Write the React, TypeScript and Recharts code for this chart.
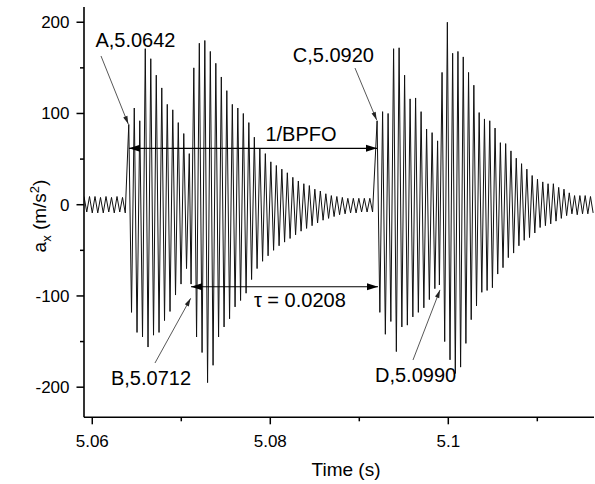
import React from 'react';
import { LineChart, Line, XAxis, YAxis, ReferenceLine, ReferenceDot } from 'recharts';

// ---- data ----
// each segment: start time (s), half-period between extrema (s), extrema values (m/s^2)
const segmentStarts = [5.05907, 5.0641, 5.0711, 5.092, 5.099];
const segmentHalfPeriods = [0.000309, 0.000309, 0.000309, 0.000309, 0.0002978];

const preBurstValues = [9, -8, 9, -9, 9, -9, 8, -9, 9, -8, 8, -9, 9, -8, 8, -9];
const burstAValues = [88, -118, 106, -140, 92, -145, 171, -156, 160, -143, 142, -140, 128, -127, 110, -117, 104, -99, 90, -87, 78, -70, 56];
const burstBValues = [
  -87, 150, -145, 177, -162, 180, -195, 168, -176, 155, -145, 140, -134, 125, -125, 110, -112, 106, -105, 100,
  -97, 90, -82, 74, -70, 62, -62, 56, -56, 47, -50, 43, -45, 39, -41, 35, -37, 30, -33, 26,
  -29, 23, -26, 21, -23, 17, -20, 15, -17, 12, -15, 10, -13, 9, -11, 8, -10, 7, -9, 7,
  -9, 7, -8, 7, -8, 7, -8,
];
const burstCValues = [92, -118, 102, -142, 100, -128, 171, -161, 172, -134, 142, -132, 116, -123, 117, -118, 102, -113, 83, -104, 79, -92, 70];
const burstDValues = [
  -88, 145, -150, 200, -170, 166, -185, 168, -178, 162, -152, 145, -126, 131, -111, 101, -96, 94, -94, 92,
  -91, 84, -76, 68, -69, 67, -58, 59, -53, 51, -45, 45, -39, 39, -36, 32, -31, 28, -25, 25,
  -23, 23, -21, 23, -18, 19, -15, 17, -12, 13, -10, 10, -11, 10, -10, 10, -10, 9, -9,
];
const segments = [preBurstValues, burstAValues, burstBValues, burstCValues, burstDValues];

const xDomain = [5.05907, 5.11637];
const yDomain = [-233, 216.7];
const xTicks = [5.06, 5.07, 5.08, 5.09, 5.1, 5.11];
const xMajorTicks = [5.06, 5.08, 5.1];
const yTicks = [-200, -150, -100, -50, 0, 50, 100, 150, 200];
const yMajorTicks = [-200, -100, 0, 100, 200];

const pointLabels = [
  { text: 'A,5.0642', t: 5.06485, a: 172.8 },
  { text: 'B,5.0712', t: 5.0666, a: -197.6 },
  { text: 'C,5.0920', t: 5.08709, a: 156.4 },
  { text: 'D,5.0990', t: 5.09632, a: -194.3 },
  { text: '1/BPFO', t: 5.08345, a: 69.8 },
  { text: 'τ = 0.0208', t: 5.08332, a: -112.1 },
];
const pointers = [
  { t1: 5.06098, a1: 163.0, t2: 5.064045, a2: 88.4 },
  { t1: 5.067045, a1: -173.5, t2: 5.071056, a2: -102.6 },
  { t1: 5.089517, a1: 149.8, t2: 5.091955, a2: 92.8 },
  { t1: 5.096034, a1: -170.2, t2: 5.099067, a2: -93.4 },
];
const spans = [
  { t1: 5.064124, t2: 5.091988, a: 61.8 },
  { t1: 5.07109, t2: 5.0921, a: -89.9 },
];

const rows = segments.flatMap((vals, s) =>
  vals.map((v, i) => ({ t: segmentStarts[s] + i * segmentHalfPeriods[s], a: v }))
);

const FONT = "'Liberation Sans', Arial, sans-serif";

const isIn = (arr: number[], v: number) => arr.some((m) => Math.abs(m - v) < 1e-9);

const XTick = (props: any) => {
  const { x, y, payload } = props;
  const major = isIn(xMajorTicks, payload.value);
  return (
    <g>
      <line x1={x} y1={y} x2={x} y2={y + (major ? 7 : 4)} stroke="#000" strokeWidth={1.5} />
      {major && (
        <text x={x} y={y + 29.5} textAnchor="middle" fontSize={17} fontFamily={FONT} fill="#000">
          {String(payload.value)}
        </text>
      )}
    </g>
  );
};

const YTick = (props: any) => {
  const { x, y, payload } = props;
  const major = isIn(yMajorTicks, payload.value);
  return (
    <g>
      <line x1={x} y1={y} x2={x - (major ? 7.5 : 4)} y2={y} stroke="#000" strokeWidth={1.5} />
      {major && (
        <text x={x - 14.5} y={y} dy="0.35em" textAnchor="end" fontSize={17} fontFamily={FONT} fill="#000">
          {String(payload.value)}
        </text>
      )}
    </g>
  );
};

const head = (tx: number, ty: number, fx: number, fy: number, len: number, wid: number, color: string) => {
  const dx = tx - fx;
  const dy = ty - fy;
  const L = Math.hypot(dx, dy) || 1;
  const ux = dx / L;
  const uy = dy / L;
  const bx = tx - ux * len;
  const by = ty - uy * len;
  const px = (-uy * wid) / 2;
  const py = (ux * wid) / 2;
  return <polygon points={`${tx},${ty} ${bx + px},${by + py} ${bx - px},${by - py}`} fill={color} />;
};

const pointerShape = (p: any) => {
  const { x1, y1, x2, y2 } = p;
  return (
    <g>
      <line x1={x1} y1={y1} x2={x2} y2={y2} stroke="#444" strokeWidth={0.9} />
      {head(x2, y2, x1, y1, 8, 4.5, '#222')}
    </g>
  );
};

const spanShape = (p: any) => {
  const { x1, y1, x2, y2 } = p;
  return (
    <g>
      <line x1={x1} y1={y1} x2={x2} y2={y2} stroke="#000" strokeWidth={1.2} />
      {head(x2, y2, x1, y1, 11, 7, '#000')}
      {head(x1, y1, x2, y2, 11, 7, '#000')}
    </g>
  );
};

export default function App() {
  return (
    <div style={{ position: 'absolute', left: 0, top: 0, width: 595, height: 484, background: '#fff' }}>
      <LineChart width={595} height={484} data={rows} margin={{ top: 7, right: 1, bottom: 0, left: 0 }}>
        <XAxis
          dataKey="t"
          type="number"
          domain={xDomain}
          allowDataOverflow
          ticks={xTicks}
          tickSize={0}
          tickMargin={0}
          tickLine={false}
          tick={<XTick />}
          height={66.7}
          axisLine={{ stroke: '#000', strokeWidth: 1.6 }}
          interval={0}
        />
        <YAxis
          type="number"
          domain={yDomain}
          allowDataOverflow
          ticks={yTicks}
          tickSize={0}
          tickMargin={0}
          tickLine={false}
          tick={<YTick />}
          width={84}
          axisLine={{ stroke: '#000', strokeWidth: 1.6 }}
          interval={0}
        />
        <Line
          dataKey="a"
          type="linear"
          dot={false}
          activeDot={false}
          stroke="#111"
          strokeWidth={1}
          isAnimationActive={false}
        />
        {spans.map((s, i) => (
          <ReferenceLine
            key={'s' + i}
            segment={[
              { x: s.t1, y: s.a },
              { x: s.t2, y: s.a },
            ]}
            ifOverflow="visible"
            shape={spanShape}
          />
        ))}
        {pointers.map((p, i) => (
          <ReferenceLine
            key={'p' + i}
            segment={[
              { x: p.t1, y: p.a1 },
              { x: p.t2, y: p.a2 },
            ]}
            ifOverflow="visible"
            shape={pointerShape}
          />
        ))}
        {pointLabels.map((l, i) => (
          <ReferenceDot
            key={'l' + i}
            x={l.t}
            y={l.a}
            ifOverflow="visible"
            shape={(p: any) => (
              <text x={p.cx} y={p.cy} textAnchor="middle" fontSize={20} fontFamily={FONT} fill="#000">
                {l.text}
              </text>
            )}
          />
        ))}
      </LineChart>
      <svg width={595} height={484} style={{ position: 'absolute', left: 0, top: 0, pointerEvents: 'none' }}>
        <text x={346} y={476} textAnchor="middle" fontSize={19} fontFamily={FONT} fill="#000">
          Time (s)
        </text>
        <text
          x={46}
          y={216}
          transform="rotate(-90 46 216)"
          textAnchor="middle"
          fontSize={19}
          fontFamily={FONT}
          fill="#000"
        >
          <tspan>a</tspan>
          <tspan dy={5} fontSize={13}>x</tspan>
          <tspan dy={-5}> (m/s</tspan>
          <tspan dy={-7} fontSize={13}>2</tspan>
          <tspan dy={7}>)</tspan>
        </text>
      </svg>
    </div>
  );
}
